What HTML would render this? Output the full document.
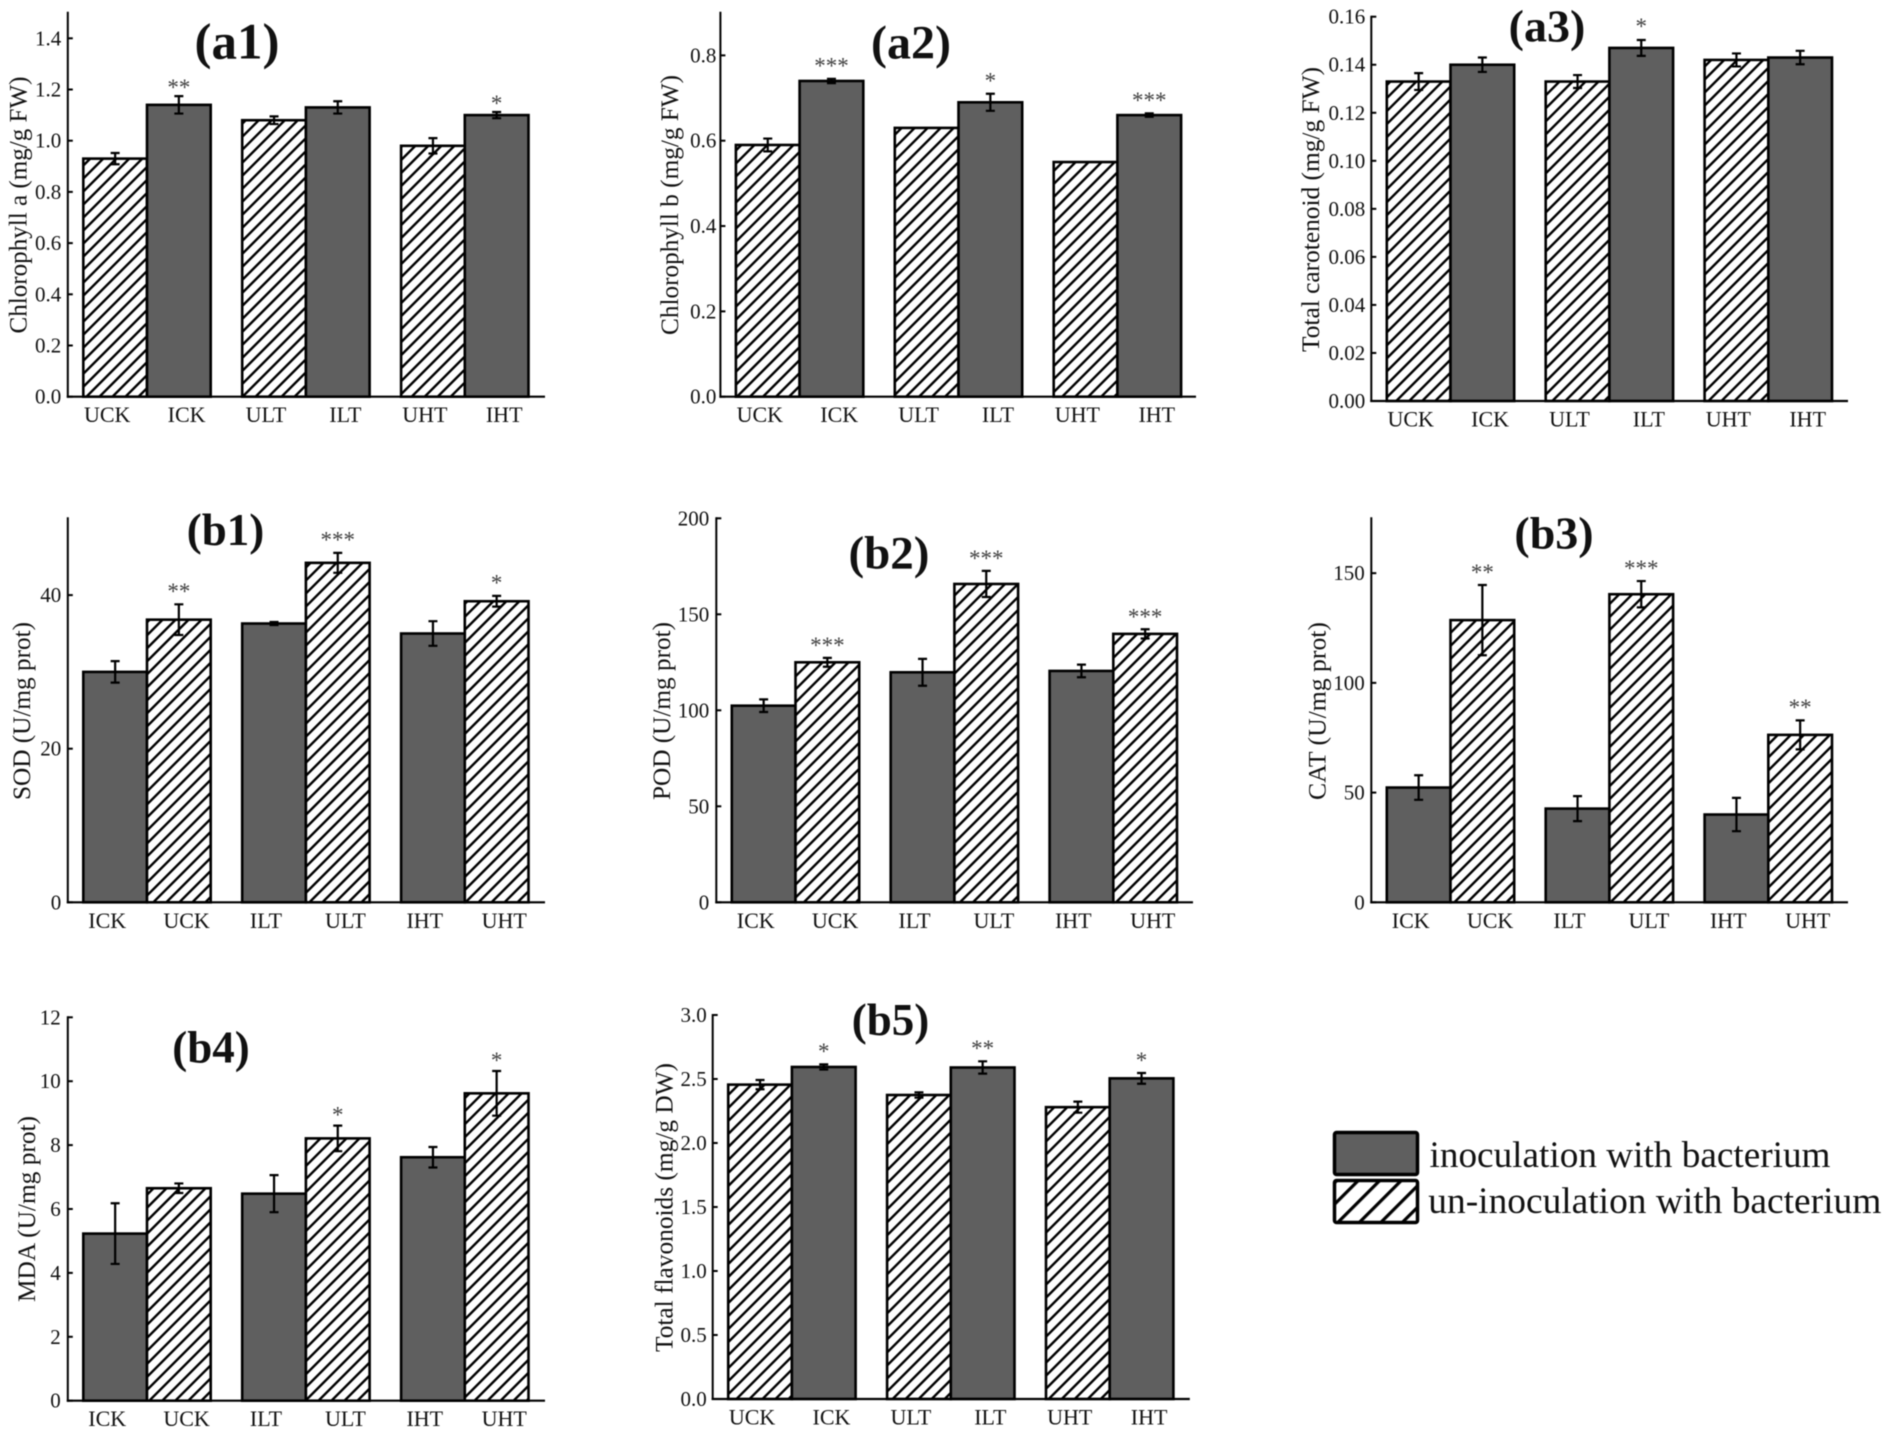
<!DOCTYPE html>
<html lang="en">
<head>
<meta charset="utf-8">
<title>Physiological indices bar charts</title>
<style>
html,body{margin:0;padding:0;background:#fff;}
#figure{display:block;width:1889px;height:1432px;filter:blur(0.5px);font-family:"Liberation Serif",serif;}
</style>
</head>
<body>
<svg id="figure" xmlns="http://www.w3.org/2000/svg" width="1889" height="1432" viewBox="0 0 1889 1432">
  <defs>
    <pattern id="hatch" patternUnits="userSpaceOnUse" width="9.2" height="9.2" patternTransform="rotate(45)">
      <rect width="9.2" height="9.2" fill="#fff"></rect>
      <rect x="0" y="0" width="2.4" height="9.2" fill="#000"></rect>
    </pattern>
    <pattern id="legend-hatch" patternUnits="userSpaceOnUse" width="15.2" height="15.2" patternTransform="rotate(45)">
      <rect width="15.2" height="15.2" fill="#fff"></rect>
      <rect x="0" y="0" width="3.2" height="15.2" fill="#000"></rect>
    </pattern>
  </defs>
  <g id="panels"></g>
  <g>
    <rect x="1334.5" y="1132.5" width="83" height="42" rx="2" fill="#5f5f5f" stroke="#000" stroke-width="3.5"></rect>
    <text x="1429.5" y="1167" font-size="37" textLength="401" lengthAdjust="spacingAndGlyphs" fill="#111">inoculation with bacterium</text>
    <rect x="1334.5" y="1180.5" width="83" height="42" rx="2" fill="url(#legend-hatch)" stroke="#000" stroke-width="3.5"></rect>
    <text x="1428.3" y="1213" font-size="37" textLength="453" lengthAdjust="spacingAndGlyphs" fill="#111">un-inoculation with bacterium</text>
  </g>
</svg>
<script>
// ---- Panel a1 ----
const a1Categories = ['UCK','ICK','ULT','ILT','UHT','IHT'];
const a1Values = [0.93,1.14,1.08,1.13,0.98,1.10];
const a1Errors = [0.022,0.034,0.015,0.024,0.03,0.012];
const a1Stars = ['','**','','','','*'];
const a1Ticks = ['0.0','0.2','0.4','0.6','0.8','1.0','1.2','1.4'];
// ---- Panel a2 ----
const a2Categories = ['UCK','ICK','ULT','ILT','UHT','IHT'];
const a2Values = [0.59,0.74,0.63,0.69,0.55,0.66];
const a2Errors = [0.015,0.005,0,0.02,0,0.004];
const a2Stars = ['','***','','*','','***'];
const a2Ticks = ['0.0','0.2','0.4','0.6','0.8'];
// ---- Panel a3 ----
const a3Categories = ['UCK','ICK','ULT','ILT','UHT','IHT'];
const a3Values = [0.133,0.14,0.133,0.147,0.142,0.143];
const a3Errors = [0.0035,0.003,0.0027,0.0033,0.0027,0.0028];
const a3Stars = ['','','','*','',''];
const a3Ticks = ['0.00','0.02','0.04','0.06','0.08','0.10','0.12','0.14','0.16'];
// ---- Panel b1 ----
const b1Categories = ['ICK','UCK','ILT','ULT','IHT','UHT'];
const b1Values = [30,36.8,36.3,44.2,35,39.2];
const b1Errors = [1.4,2.0,0.2,1.3,1.6,0.7];
const b1Stars = ['','**','','***','','*'];
const b1Ticks = ['0','20','40'];
// ---- Panel b2 ----
const b2Categories = ['ICK','UCK','ILT','ULT','IHT','UHT'];
const b2Values = [102.4,125,119.8,165.8,120.5,139.8];
const b2Errors = [3.3,2.3,7,6.8,3.3,2.4];
const b2Stars = ['','***','','***','','***'];
const b2Ticks = ['0','50','100','150','200'];
// ---- Panel b3 ----
const b3Categories = ['ICK','UCK','ILT','ULT','IHT','UHT'];
const b3Values = [52.3,128.6,42.7,140.4,40,76.3];
const b3Errors = [5.6,16,5.7,6,7.6,6.6];
const b3Stars = ['','**','','***','','**'];
const b3Ticks = ['0','50','100','150'];
// ---- Panel b4 ----
const b4Categories = ['ICK','UCK','ILT','ULT','IHT','UHT'];
const b4Values = [5.23,6.65,6.48,8.21,7.62,9.62];
const b4Errors = [0.95,0.15,0.58,0.4,0.32,0.7];
const b4Stars = ['','','','*','','*'];
const b4Ticks = ['0','2','4','6','8','10','12'];
// ---- Panel b5 ----
const b5Categories = ['UCK','ICK','ULT','ILT','UHT','IHT'];
const b5Values = [2.456,2.594,2.375,2.59,2.28,2.505];
const b5Errors = [0.036,0.02,0.021,0.048,0.043,0.042];
const b5Stars = ['','*','','**','','*'];
const b5Ticks = ['0.0','0.5','1.0','1.5','2.0','2.5','3.0'];

const NS = 'http://www.w3.org/2000/svg';
const panelsRoot = document.getElementById('panels');

function make(parent, tag, attrs, text) {
  const node = document.createElementNS(NS, tag);
  for (const key in attrs) node.setAttribute(key, attrs[key]);
  if (text !== undefined) node.textContent = text;
  parent.appendChild(node);
  return node;
}

function drawPanel(p) {
  const group = make(panelsRoot, 'g', {});
  
  

  const yScale = v => p.base - (v / p.yMax) * (p.base - p.top);
  const barLeft = i => p.ax + 15.5 + Math.floor(i / 2) * 158.9 + (i % 2) * 63.7;
  const barWidth = 63.7;

  p.values.forEach((value, i) => {
    const cat = p.categories[i];
    const hatched = cat.charAt(0) === 'U';
    const bar = make(group, 'rect', {
      x: barLeft(i), y: yScale(value), width: barWidth, height: p.base - yScale(value),
      fill: hatched ? 'url(#hatch)' : '#5f5f5f', stroke: '#000', 'stroke-width': 2.6
    });
    
    
  });

  p.values.forEach((value, i) => {
    const cat = p.categories[i];
    const err = p.errors[i];
    const cx = barLeft(i) + barWidth / 2;
    if (err > 0) {
      const d = 'M' + cx + ' ' + yScale(value + err) + 'V' + yScale(value - err) +
        'M' + (cx - 4.5) + ' ' + yScale(value + err) + 'h9' +
        'M' + (cx - 4.5) + ' ' + yScale(value - err) + 'h9';
      const whisker = make(group, 'path', { d: d, fill: 'none', stroke: '#000', 'stroke-width': 2.2 });
      
      
    }
    if (p.stars[i]) {
      const starY = yScale(value + err) - p.starGap;
      const star = make(group, 'text', {
        x: cx, y: starY + 10.8, 'font-size': 23, 'text-anchor': 'middle', fill: '#404040'
      }, p.stars[i]);
      
      
    }
    const labelX = p.ax + 39.4 + 79.4 * i;
    const catLabel = make(group, 'text', {
      x: labelX, y: p.base + 25.5, 'font-size': 22, 'text-anchor': 'middle', fill: '#111'
    }, cat);
    
    
  });

  const yAxis = make(group, 'line', { x1: p.ax, x2: p.ax, y1: p.top - 1, y2: p.base + 1, stroke: '#000', 'stroke-width': 2 });
  
  
  const xAxis = make(group, 'line', { x1: p.ax - 1, x2: p.xEnd, y1: p.base, y2: p.base, stroke: '#000', 'stroke-width': 2.2 });
  
  

  p.ticks.forEach(label => {
    const ty = yScale(parseFloat(label));
    const tick = make(group, 'line', { x1: p.ax, x2: p.ax + 5, y1: ty, y2: ty, stroke: '#000', 'stroke-width': 2 });
    
    
    const tl = make(group, 'text', {
      x: p.ax - p.tickGap, y: ty + 7, 'font-size': 21, 'text-anchor': 'end', fill: '#111'
    }, label);
    
    
  });

  const yTitle = make(group, 'text', {
    x: p.titleX, y: p.titleMid, 'font-size': 25, 'text-anchor': 'middle', fill: '#111',
    textLength: p.titleLen, lengthAdjust: 'spacingAndGlyphs',
    transform: 'rotate(-90 ' + p.titleX + ' ' + p.titleMid + ')'
  }, p.yTitle);
  
  

  const tag = make(group, 'text', {
    x: p.tagX, y: p.tagY, 'font-size': p.tagSize, 'font-weight': 'bold', 'text-anchor': 'middle', fill: '#111'
  }, '(' + p.id + ')');
  
  
}

drawPanel({ id:'a1', categories:a1Categories, values:a1Values, errors:a1Errors, stars:a1Stars, ticks:a1Ticks,
  ax:67.8, top:12.7, base:396.7, xEnd:545, yMax:1.5, tickGap:6.5, starGap:12,
  yTitle:'Chlorophyll a (mg/g FW)', titleX:26.5, titleMid:205, titleLen:257, tagX:237, tagY:58.5, tagSize:51 });
drawPanel({ id:'a2', categories:a2Categories, values:a2Values, errors:a2Errors, stars:a2Stars, ticks:a2Ticks,
  ax:720.4, top:12.7, base:396.7, xEnd:1196, yMax:0.9, tickGap:4, starGap:16,
  yTitle:'Chlorophyll b (mg/g FW)', titleX:678, titleMid:205, titleLen:260, tagX:911, tagY:58.5, tagSize:48 });
drawPanel({ id:'a3', categories:a3Categories, values:a3Values, errors:a3Errors, stars:a3Stars, ticks:a3Ticks,
  ax:1371.3, top:16.7, base:401, xEnd:1848, yMax:0.16, tickGap:6, starGap:16.7,
  yTitle:'Total carotenoid (mg/g FW)', titleX:1319, titleMid:209.5, titleLen:285, tagX:1547, tagY:41.5, tagSize:46 });
drawPanel({ id:'b1', categories:b1Categories, values:b1Values, errors:b1Errors, stars:b1Stars, ticks:b1Ticks,
  ax:67.8, top:518.3, base:902.3, xEnd:545, yMax:50, tickGap:6.5, starGap:16.3,
  yTitle:'SOD (U/mg prot)', titleX:30, titleMid:711, titleLen:178, tagX:225.5, tagY:545, tagSize:45 });
drawPanel({ id:'b2', categories:b2Categories, values:b2Values, errors:b2Errors, stars:b2Stars, ticks:b2Ticks,
  ax:716.3, top:518.3, base:902.3, xEnd:1193, yMax:200, tickGap:7, starGap:15.5,
  yTitle:'POD (U/mg prot)', titleX:670, titleMid:711, titleLen:178, tagX:889, tagY:568.5, tagSize:47 });
drawPanel({ id:'b3', categories:b3Categories, values:b3Values, errors:b3Errors, stars:b3Stars, ticks:b3Ticks,
  ax:1371.3, top:518.3, base:902.3, xEnd:1848, yMax:175, tickGap:6.5, starGap:16,
  yTitle:'CAT (U/mg prot)', titleX:1325.5, titleMid:711, titleLen:178, tagX:1554, tagY:548.5, tagSize:46 });
drawPanel({ id:'b4', categories:b4Categories, values:b4Values, errors:b4Errors, stars:b4Stars, ticks:b4Ticks,
  ax:67.8, top:1017.3, base:1400.7, xEnd:545, yMax:12, tickGap:7, starGap:13.7,
  yTitle:'MDA (U/mg prot)', titleX:35, titleMid:1209, titleLen:186, tagX:211, tagY:1062.5, tagSize:45 });
drawPanel({ id:'b5', categories:b5Categories, values:b5Values, errors:b5Errors, stars:b5Stars, ticks:b5Ticks,
  ax:712.7, top:1015, base:1399, xEnd:1189.8, yMax:3, tickGap:6, starGap:16,
  yTitle:'Total flavonoids (mg/g DW)', titleX:672.5, titleMid:1207.5, titleLen:289, tagX:890.5, tagY:1035, tagSize:45 });
</script>
</body>
</html>
